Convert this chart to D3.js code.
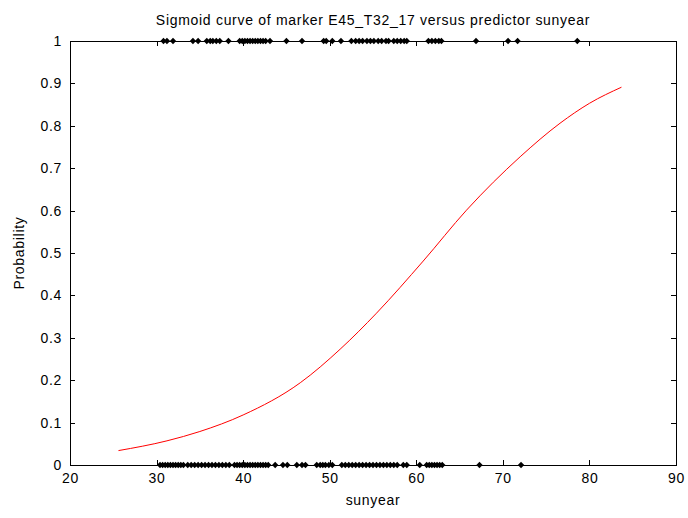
<!DOCTYPE html>
<html><head><meta charset="utf-8">
<script src="https://cdn.jsdelivr.net/npm/d3@7"></script>
<style>body{margin:0;background:#fff}svg{display:block}text{font-family:"Liberation Sans",Arial,sans-serif;fill:#000;letter-spacing:0.7px}</style>
</head><body><svg id="c" width="688" height="518"></svg>
<script>
const titleText = "Sigmoid curve of marker E45_T32_17 versus predictor sunyear";
const xLabel = "sunyear";
const yLabel = "Probability";
const xTicks = [20,30,40,50,60,70,80,90];
const yTicks = [0,0.1,0.2,0.3,0.4,0.5,0.6,0.7,0.8,0.9,1];
// observations with marker present (y = 1)
const presentX = [30.8,31.2,31.9,34.2,34.8,35.8,36.2,36.5,36.9,37.3,38.3,39.6,39.9,40.2,40.5,40.8,41.1,41.4,41.7,42.0,42.3,42.6,43.1,45.0,46.8,49.3,49.6,50.3,51.3,52.5,53.0,53.4,53.8,54.3,54.7,55.1,55.6,56.0,56.5,56.8,57.4,57.8,58.2,58.6,58.9,61.4,61.8,62.2,62.6,62.9,66.9,70.6,71.7,78.6];
// observations with marker absent (y = 0)
const absentX = [30.4,30.7,31.0,31.3,31.6,31.9,32.2,32.5,32.8,33.1,33.6,34.0,34.4,34.8,35.2,35.6,36.0,36.4,36.8,37.2,37.6,38.0,38.4,39.0,39.3,39.6,39.9,40.2,40.5,40.8,41.1,41.4,41.7,42.0,42.3,42.6,42.9,43.7,44.6,45.1,46.2,46.8,47.2,48.5,48.9,49.2,49.5,49.9,50.3,51.4,51.8,52.2,52.6,53.0,53.4,53.8,54.2,54.6,55.0,55.4,55.8,56.2,56.6,57.0,57.4,57.8,58.5,58.9,60.4,61.2,61.5,61.8,62.1,62.4,62.7,63.0,67.3,72.1];
// fitted sigmoid curve points
const curveX = [25.6,31.2,35.0,40.0,46.6,51.2,55.4,60.8,65.8,72.0,76.6,80.0,83.7];
const curveY = [0.034,0.057,0.079,0.118,0.194,0.273,0.358,0.481,0.601,0.727,0.806,0.853,0.891];

const svg = d3.select("#c");
const L=70,R=676,T=41,B=465;
const x = d3.scaleLinear().domain([20,90]).range([L,R]);
const y = d3.scaleLinear().domain([0,1]).range([B,T]);

svg.append("rect").attr("x",L).attr("y",T).attr("width",R-L).attr("height",B-T)
  .attr("fill","#fff").attr("stroke","#000").attr("stroke-width",1).attr("shape-rendering","crispEdges");

const tl=5;
const axB = svg.append("g").attr("transform",`translate(0,${B})`)
  .call(d3.axisBottom(x).tickValues(xTicks).tickSize(-tl).tickPadding(8).tickFormat(d3.format("d")));
const axT = svg.append("g").attr("transform",`translate(0,${T})`)
  .call(d3.axisTop(x).tickValues(xTicks).tickSize(-tl).tickFormat(""));
const axL = svg.append("g").attr("transform",`translate(${L},0)`)
  .call(d3.axisLeft(y).tickValues(yTicks).tickSize(-tl).tickPadding(8).tickFormat(d=>d===0?"0":d===1?"1":d3.format(".1f")(d)));
const axR = svg.append("g").attr("transform",`translate(${R},0)`)
  .call(d3.axisRight(y).tickValues(yTicks).tickSize(-tl).tickFormat(""));
[axB,axT,axL,axR].forEach(a=>{
  a.select(".domain").remove();
  a.selectAll("line").attr("stroke","#000").attr("shape-rendering","crispEdges");
  a.selectAll("text").style("font-size","14px").attr("fill","#000");
});

const line = d3.line().x(d=>x(d[0])).y(d=>y(d[1])).curve(d3.curveMonotoneX);
svg.append("path").datum(curveX.map((v,i)=>[v,curveY[i]]))
  .attr("d",line).attr("fill","none").attr("stroke","#ff0000").attr("stroke-width",1);

const sym = d3.symbol().type(d3.symbolSquare).size(20);
function markers(arr,val){
  svg.append("g").selectAll("path").data(arr).join("path")
    .attr("d",sym).attr("transform",d=>`translate(${x(d)},${y(val)}) rotate(45)`)
    .attr("fill","#000");
}
markers(presentX,1);
markers(absentX,0);

svg.append("text").attr("x",(L+R)/2).attr("y",25).attr("text-anchor","middle").style("font-size","14px").text(titleText);
svg.append("text").attr("x",(L+R)/2).attr("y",505).attr("text-anchor","middle").style("font-size","14px").text(xLabel);
svg.append("text").attr("transform",`translate(24,${(T+B)/2}) rotate(-90)`).attr("text-anchor","middle").style("font-size","14px").text(yLabel);
</script></body></html>
